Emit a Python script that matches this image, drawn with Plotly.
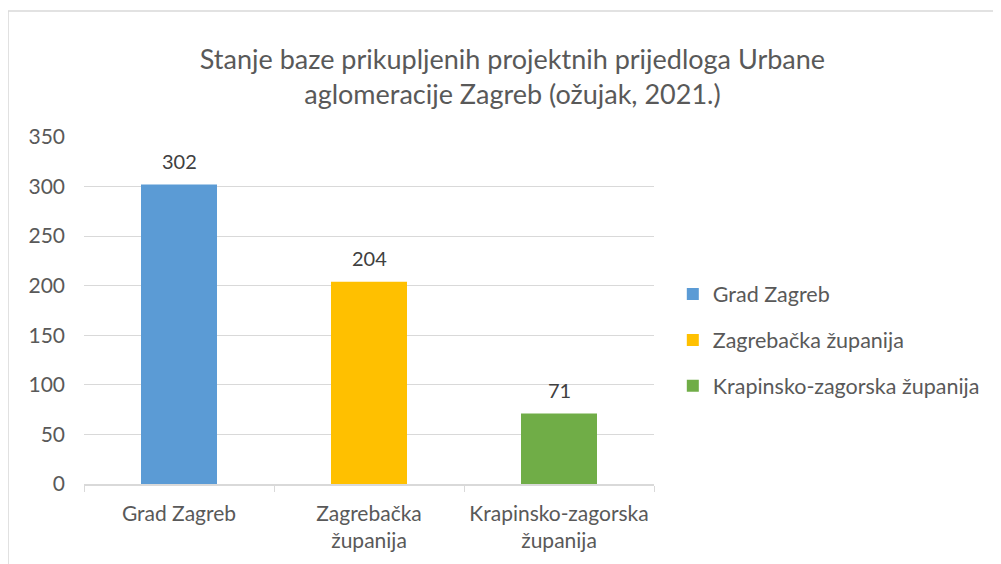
import plotly.graph_objects as go

categories = ["Grad Zagreb", "Zagrebačka županija", "Krapinsko-zagorska županija"]
tick_labels = ["Grad Zagreb", "Zagrebačka<br>županija", "Krapinsko-zagorska<br>županija"]
values = [302, 204, 71]
colors = ["#5B9BD5", "#FFC000", "#70AD47"]
title_text = "Stanje baze prikupljenih projektnih prijedloga Urbane<br>aglomeracije Zagreb (ožujak, 2021.)"

FONT = "Lato, Carlito, Calibri, sans-serif"
GREY = "#595959"

fig = go.Figure()
for cat, lab, v, c in zip(categories, tick_labels, values, colors):
    fig.add_trace(go.Bar(
        x=[lab], y=[v], name=cat, marker=dict(color=c, line=dict(width=0)),
        width=0.4, legendgroup=cat,
    ))

annotations = [
    dict(x=lab, y=v, xref="x", yref="y", text=str(v), showarrow=False,
         yshift=24, yanchor="middle",
         font=dict(size=20, color="#404040", family=FONT))
    for lab, v in zip(tick_labels, values)
]

fig.update_layout(
    width=993, height=556,
    barmode="overlay",
    paper_bgcolor="white", plot_bgcolor="white",
    margin=dict(l=76, r=347, t=129, b=72),
    font=dict(family=FONT, color=GREY),
    title=dict(text=title_text, x=0.508, xanchor="center", y=0.890, yanchor="middle",
               font=dict(size=27, color=GREY, family=FONT)),
    showlegend=True,
    legend=dict(x=1.033, xanchor="left", y=0.415, yanchor="middle",
                font=dict(size=21.5, color=GREY, family=FONT),
                traceorder="grouped", tracegroupgap=15,
                bgcolor="rgba(0,0,0,0)"),
    xaxis=dict(type="category", categoryorder="array", categoryarray=tick_labels,
               showline=True, linecolor="#D9D9D9", linewidth=1.5,
               ticks="outside", tickson="boundaries", ticklen=6, tickcolor="#D9D9D9",
               tickfont=dict(size=21, color=GREY, family=FONT), ticklabelstandoff=10,
               showgrid=False, zeroline=False, fixedrange=True),
    yaxis=dict(range=[0, 350], dtick=50, tick0=0, showgrid=True, gridcolor="#D9D9D9",
               gridwidth=1, zeroline=False, showline=False, ticks="",
               tickfont=dict(size=21, color=GREY, family=FONT), ticklabelstandoff=18),
    annotations=annotations,
    shapes=[dict(type="rect", xref="paper", yref="paper",
                 x0=-0.1333, x1=1.8, y0=-0.5, y1=1.363,
                 line=dict(color="#D9D9D9", width=1.5), fillcolor="rgba(0,0,0,0)",
                 layer="below")],
)

fig.write_html("out.html")
